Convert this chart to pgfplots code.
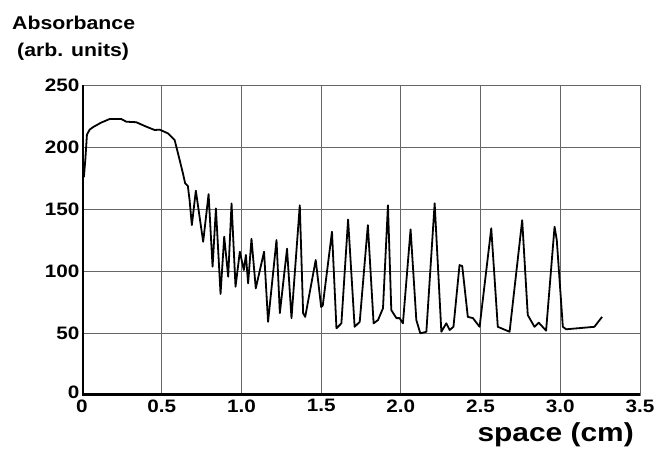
\documentclass[border=0pt]{standalone}
\usepackage{fontspec}
\setmainfont{Liberation Sans}[FakeStretch=1.15]
\usepackage{pgfplots}
\pgfplotsset{compat=1.18}

\begin{document}
\begin{tikzpicture}[x=1pt,y=1pt]
\useasboundingbox (0,0) rectangle (659,448);
\begin{axis}[
  at={(82pt,53pt)}, anchor=south west,
  scale only axis, width=558pt, height=310pt,
  xmin=0, xmax=3.5, ymin=0, ymax=250,
  xtick={0,0.5,1,1.5,2,2.5,3,3.5},
  xticklabels={0,0.5,1.0,1.5,2.0,2.5,3.0,3.5},
  ytick={0,50,100,150,200,250},
  yticklabels={\raisebox{5pt}{0},50,100,150,200,250},
  grid=major, grid style={line width=0.9pt, black!60},
  axis line style={line width=0.9pt, black!60},
  major tick length=0pt,
  tick label style={font=\fontsize{18}{18}\selectfont\bfseries},
  xticklabel style={yshift=-1pt},
  yticklabel style={xshift=1pt},
]
\addplot[black, line width=1.8pt, line join=round] coordinates {
(0.005,178) (0.012,176) (0.021,190) (0.031,210) (0.048,214) (0.069,216)
(0.119,219.6) (0.174,222.6) (0.246,222.6) (0.278,220.4) (0.340,220)
(0.403,216.4) (0.456,213.7) (0.487,214) (0.539,211) (0.581,205.6)
(0.602,195) (0.633,178.8) (0.647,170.7) (0.664,168.5) (0.675,157)
(0.689,137) (0.714,164.8) (0.760,123.6) (0.794,162) (0.819,103.5)
(0.840,150.5) (0.869,81.5) (0.892,127.7) (0.917,95.4) (0.938,154.5)
(0.963,87.3) (0.990,115.6) (1.015,100.8) (1.028,113) (1.042,90)
(1.063,126) (1.090,86) (1.142,115.6) (1.167,59) (1.220,125) (1.241,66)
(1.286,118) (1.314,62) (1.366,153) (1.387,66) (1.400,63) (1.466,108.9)
(1.500,71) (1.510,72) (1.568,131.7) (1.596,53.8) (1.627,57.8)
(1.669,141.5) (1.710,55) (1.742,59) (1.793,137) (1.829,57.8)
(1.857,60.5) (1.888,70) (1.919,153) (1.940,68.5) (1.972,62) (1.992,62)
(2.013,57.8) (2.061,133.6) (2.097,60.5) (2.122,49.7) (2.160,51)
(2.212,154.6) (2.254,51) (2.285,57.8) (2.306,52.4) (2.330,55)
(2.368,104.8) (2.385,104) (2.420,63) (2.452,62) (2.494,55) (2.567,134.4)
(2.608,55) (2.682,51) (2.761,141) (2.796,64.5) (2.838,55) (2.865,58.3)
(2.911,51.9) (2.964,135.7) (2.978,125) (3.016,55) (3.037,53) (3.214,55)
(3.262,63)
};
\draw[line width=4pt] (axis cs:0,250) -- (axis cs:0,0) -- (axis cs:3.5,0);
\end{axis}
\node[anchor=base west, inner sep=0, font=\fontsize{18.5}{18.5}\selectfont\bfseries] at (12,418) {Absorbance};
\node[anchor=base west, inner sep=0, font=\fontsize{18.5}{18.5}\selectfont\bfseries] at (17,391) {(arb. units)};
\node[anchor=base east, inner sep=0, font=\fontsize{26}{26}\selectfont\bfseries] at (634,7) {space (cm)};
\end{tikzpicture}
\end{document}
